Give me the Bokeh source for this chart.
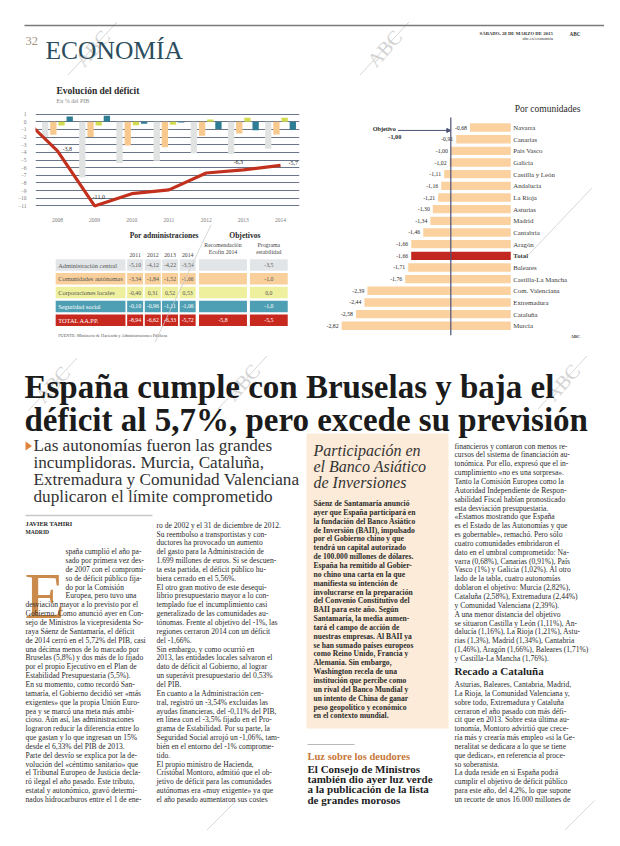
import math
from bokeh.plotting import figure
from bokeh.layouts import column, row
from bokeh.models import Range1d, ColumnDataSource, FixedTicker, Arrow, NormalHead
from bokeh.transform import dodge
from bokeh.core.properties import value
from bokeh.embed import file_html
from bokeh.resources import INLINE

SERIF = "Liberation Serif"

# ------------------------------------------------------------------ data
years = [2008, 2009, 2010, 2011, 2012, 2013, 2014]
central = [-2.0, -7.3, -5.4, -5.10, -4.12, -4.22, -3.54]
ccaa = [-1.7, -2.0, -3.1, -3.34, -1.84, -1.52, -1.66]
local = [-0.5, -0.5, -0.45, -0.40, 0.31, 0.52, 0.53]
seg_social = [0.7, 0.8, -0.25, -0.10, -0.96, -1.11, -1.06]

total_years = [2007, 2008, 2009, 2010, 2011, 2012, 2013, 2014]
total_deficit = [0.9, -3.8, -11.0, -9.4, -8.9, -6.7, -6.3, -5.7]
label_years = [2008, 2009, 2013, 2014]
label_texts = ["-3,8", "-11,0", "-6,3", "-5,7"]

table_years = ["2011", "2012", "2013", "2014"]
admin_names = ["Administración central", "Comunidades autónomas",
               "Corporaciones locales", "Seguridad social", "TOTAL AA.PP."]
admin_values = [[-5.10, -4.12, -4.22, -3.54],
                [-3.34, -1.84, -1.52, -1.66],
                [-0.40, 0.31, 0.52, 0.53],
                [-0.10, -0.96, -1.11, -1.06],
                [-8.94, -6.62, -6.33, -5.72]]
ecofin_2014 = [None, None, None, None, -5.8]
programa_estabilidad = [-3.5, -1.0, 0.0, -1.0, -5.5]

communities = ["Navarra", "Canarias", "País Vasco", "Galicia", "Castilla y León",
               "Andalucía", "La Rioja", "Asturias", "Madrid", "Cantabria", "Aragón",
               "Total", "Baleares", "Castilla-La Mancha", "Com. Valenciana",
               "Extremadura", "Cataluña", "Murcia"]
community_deficit = [-0.68, -0.91, -1.00, -1.02, -1.11, -1.16, -1.21, -1.30, -1.34,
                     -1.46, -1.66, -1.66, -1.71, -1.76, -2.39, -2.44, -2.58, -2.82]
objective = -1.00

# ------------------------------------------------------------------ helpers
WM_TEXT = "#c6c6c6"
WM_LINE = "#cdcdcd"


def fmt(v, d=2):
    return f"{v:.{d}f}".replace(".", ",")


def canvas(x0, y0, w, h):
    p = figure(width=w, height=h, x_range=Range1d(x0, x0 + w), y_range=Range1d(y0 + h, y0),
               output_backend="svg", toolbar_location=None, min_border=0,
               x_axis_location=None, y_axis_location=None, outline_line_color=None)
    p.grid.visible = False
    return p


def txt(p, x, y, s, size, color="#333333", align="left", style="normal",
        font=SERIF, baseline="middle", angle=0.0, alpha=1.0):
    p.text(x=[x], y=[y], text=[s], text_font=value(font), text_font_size=f"{size}px",
           text_color=color, text_align=align, text_baseline=baseline,
           text_font_style=style, angle=angle, text_alpha=alpha)


def lines(p, x, y0, dy, items, size, color="#2b2b2b", style="normal", indent=None):
    xs, ys = [], []
    for i, _ in enumerate(items):
        xs.append(indent[1] if (indent and i < indent[0]) else x)
        ys.append(y0 + i * dy)
    p.text(x=xs, y=ys, text=items, text_font=value(SERIF), text_font_size=f"{size}px",
           text_color=color, text_baseline="middle", text_font_style=style)


def watermark(p, cx, cy, size=20, line=True):
    # faint diagonal "ABC" archive stamp with its slanted rule
    txt(p, cx, cy, "ABC", size, color=WM_TEXT, align="center", angle=0.85, alpha=0.75)
    if line:
        d = size * 1.7
        p.segment(x0=[cx - d * 0.72], y0=[cy + d * 0.78], x1=[cx + d * 0.72],
                  y1=[cy - d * 0.78], line_color=WM_LINE, line_width=0.8)


# ------------------------------------------------------------------ header
fh = canvas(8, 8, 604, 80)
watermark(fh, 100, 56)
watermark(fh, 392, 56)
fh.segment(x0=[32], y0=[33], x1=[612], y1=[33], line_color="#7a7a7a", line_width=1.6)
txt(fh, 33, 48, "32", 12.5, color="#a39482", baseline="alphabetic")
txt(fh, 53, 58, "ECONOMÍA", 25.5, color="#2c4d5d", baseline="alphabetic")
txt(fh, 487, 41, "SÁBADO, 28 DE MARZO DE 2015", 4.8, color="#333", style="bold")
txt(fh, 577, 41, "ABC", 5.2, color="#333", style="bold")
txt(fh, 530, 46, "abc.es/economia", 4.6, color="#333")

# ------------------------------------------------------------------ line chart title
flt = canvas(8, 88, 314, 28)
txt(flt, 33, 98, "Evolución del déficit", 9.5, color="#2a2a2a", style="bold")
txt(flt, 33, 108, "En % del PIB", 6, color="#8a8a8a")

# ------------------------------------------------------------------ line + bars chart
fl = figure(width=314, height=116, x_range=Range1d(2007.41, 2014.51),
            y_range=Range1d(-11.34, 1.21), output_backend="svg", toolbar_location=None,
            min_border_left=35, min_border_right=15, min_border_top=4, min_border_bottom=12,
            outline_line_color=None)
fl.xaxis.ticker = FixedTicker(ticks=years)
fl.yaxis.ticker = FixedTicker(ticks=list(range(-11, 2)))
for ax in (fl.xaxis[0], fl.yaxis[0]):
    ax.axis_line_color = None
    ax.major_tick_line_color = None
    ax.minor_tick_line_color = None
    ax.major_label_text_font = SERIF
    ax.major_label_text_font_size = "5.5px"
    ax.major_label_text_color = "#7d7d7d"
    ax.major_label_standoff = 3
fl.xgrid.visible = False
fl.ygrid.grid_line_color = "#58677c"
fl.ygrid.grid_line_width = 0.9

src = ColumnDataSource(dict(year=years, central=central, ccaa=ccaa, local=local, ss=seg_social))
bar_styles = [("central", -0.33, "#e1e3e3"), ("ccaa", -0.11, "#f8c98e"),
              ("local", 0.11, "#d2dc4e"), ("ss", 0.33, "#2e7d94")]
for col, off, colr in bar_styles:
    fl.vbar(x=dodge("year", off, range=fl.x_range), top=col, bottom=0, width=0.17,
            source=src, fill_color=colr, line_color=None)
fl.line(total_years, total_deficit, line_color="#c2311d", line_width=3.2)

lab_y = [total_deficit[total_years.index(y)] for y in label_years]
lab_dx = [5, -2, -5, 8]
lab_dy = [-2, -9, -8, -2]
lab_align = ["left", "left", "center", "left"]
fl.text(x=label_years, y=lab_y, text=label_texts, x_offset=lab_dx, y_offset=lab_dy,
        text_align=lab_align, text_baseline="middle", text_font=value(SERIF),
        text_font_size="6px", text_color="#2a2a2a")

# ------------------------------------------------------------------ table
ft = canvas(8, 232, 314, 118)
txt(ft, 161, 243, "Por administraciones", 7.6, color="#2a2a2a", align="center", style="bold")
txt(ft, 257, 243, "Objetivos", 7.6, color="#2a2a2a", align="center", style="bold")
col_x = [126.5, 147.5, 168, 189]
for cx, yl in zip(col_x, table_years):
    txt(ft, cx, 262, yl, 5.8, color="#444", align="center")
txt(ft, 231, 252, "Recomendación", 5.8, color="#444", align="center")
txt(ft, 231, 259, "Ecofin 2014", 5.8, color="#444", align="center")
txt(ft, 285.5, 252, "Programa", 5.8, color="#444", align="center")
txt(ft, 285.5, 259, "estabilidad", 5.8, color="#444", align="center")

row_y = [272.5, 286.3, 300.1, 313.9, 327.7]
row_fill = ["#e2e5e7", "#f9cf9b", "#eef09e", "#4f9fb4", "#c8291f"]
row_text = ["#555555", "#555555", "#555555", "#ffffff", "#ffffff"]
for ry, name, vals, eco, prog, fc, tc in zip(row_y, admin_names, admin_values, ecofin_2014,
                                             programa_estabilidad, row_fill, row_text):
    ft.rect(x=[73.5] + col_x + [231, 285.5], y=[ry] * 7,
            width=[83, 19, 19, 19, 19, 57, 45], height=11.5,
            fill_color=fc, line_color=None)
    txt(ft, 35, ry, name, 6.4, color=tc)
    for cx, v in zip(col_x, vals):
        txt(ft, cx, ry, fmt(v), 5.8, color=tc, align="center")
    if eco is not None:
        txt(ft, 231, ry, fmt(eco, 1), 5.8, color=tc, align="center")
    txt(ft, 285.5, ry, fmt(prog, 1), 5.8, color=tc, align="center")
txt(ft, 35, 343, "FUENTE: Ministerio de Hacienda y Administraciones Públicas", 4.3, color="#555")
ft.segment(x0=[217], y0=[232], x1=[150], y1=[350], line_color=WM_LINE, line_width=0.8)

# ------------------------------------------------------------------ communities bars
n = len(communities)
idx = list(range(n))
fb = figure(width=290, height=262, x_range=Range1d(-3.272, 1.562),
            y_range=Range1d(n + 0.43, -4.03), output_backend="svg", toolbar_location=None,
            min_border=0, x_axis_location=None, y_axis_location=None, outline_line_color=None)
fb.grid.visible = False
bar_colors = ["#c2281f" if c == "Total" else "#fbd29f" for c in communities]
bsrc = ColumnDataSource(dict(y=idx, v=community_deficit, c=bar_colors, name=communities,
                             lab=[fmt(v) for v in community_deficit],
                             st=["bold" if c == "Total" else "normal" for c in communities]))
fb.hbar(y="y", left="v", right=0, height=0.72, fill_color="c", line_color=None, source=bsrc)
fb.segment(x0=[objective], x1=[objective], y0=[-0.85], y1=[n - 0.2],
           line_color="#4b5177", line_width=1.2)
fb.text(x="v", y="y", text="lab", x_offset=-3, text_align="right", text_baseline="middle",
        text_font=value(SERIF), text_font_size="5.8px", text_color="#2b2b2b", source=bsrc)
fb.text(x=0, y="y", text="name", x_offset=2.5, text_align="left", text_baseline="middle",
        text_font=value(SERIF), text_font_size="6.8px", text_color="#3a3a3a",
        text_font_style="st", source=bsrc)
fb.text(x=[0], y=[-1.55], text=["Por comunidades"], x_offset=4, text_font=value(SERIF),
        text_font_size="9.5px", text_color="#2a2a2a", text_baseline="middle")
fb.text(x=[objective], y=[0.1], text=["Objetivo"], x_offset=-55, text_align="right",
        text_font=value(SERIF), text_font_size="6.2px", text_color="#2a2a2a",
        text_font_style="bold", text_baseline="middle")
fb.text(x=[objective], y=[0.8], text=[fmt(objective)], x_offset=-56, text_align="center",
        text_font=value(SERIF), text_font_size="6.2px", text_color="#2a2a2a",
        text_font_style="bold", text_baseline="middle")
fb.add_layout(Arrow(x_start=objective - 0.88, y_start=0.25, x_end=objective, y_end=0.25,
                    line_color="#4b5177", line_width=1,
                    end=NormalHead(size=4, fill_color="#4b5177", line_color="#4b5177")))
fb.text(x=[1.0], y=[n - 0.1], text=["ABC"], text_font=value(SERIF), text_font_size="4.5px",
        text_color="#333", text_font_style="bold", text_baseline="middle")
fb.segment(x0=[0.28], y0=[11.0], x1=[1.35], y1=[5.2], line_color=WM_LINE, line_width=0.8)

# ------------------------------------------------------------------ article
fa = canvas(8, 350, 604, 488)
for wx, wy in [(60, 392), (250, 390), (570, 390)]:
    watermark(fa, wx, wy, 20)
for lx, ly in [(232, 838), (590, 838)]:
    fa.segment(x0=[lx - 18], y0=[ly], x1=[lx + 12], y1=[ly - 30], line_color=WM_LINE,
               line_width=0.8)
txt(fa, 32, 394, "España cumple con Bruselas y baja el", 33, color="#1b1b1b",
    style="bold", baseline="alphabetic")
txt(fa, 32, 427, "déficit al 5,7%, pero excede su previsión", 33, color="#1b1b1b",
    style="bold", baseline="alphabetic")

fa.patch(x=[33, 39.5, 33], y=[449, 453.5, 458], fill_color="#e0833a", line_color=None)
sub = ["Las autonomías fueron las grandes", "incumplidoras. Murcia, Cataluña,",
       "Extremadura y Comunidad Valenciana", "duplicaron el límite comprometido"]
lines(fa, 41, 453, 17, sub, 17.2, color="#333333")

fa.segment(x0=[33], y0=[523], x1=[160], y1=[523], line_color="#c8c8c8", line_width=1.5)
txt(fa, 33, 531, "JAVIER TAHIRI", 6.3, color="#2a2a2a", style="bold")
txt(fa, 33, 539, "MADRID", 5.6, color="#2a2a2a", style="bold")
txt(fa, 32, 603, "E", 66, color="#c98a4c", baseline="alphabetic")

col1 = ["spaña cumplió el año pa-", "sado por primera vez des-", "de 2007 con el compromi-",
        "so de déficit público fija-", "do por la Comisión", "Europea, pero tuvo una",
        "desviación mayor a lo previsto por el", "Gobierno. Como anunció ayer en Con-",
        "sejo de Ministros la vicepresidenta So-", "raya Sáenz de Santamaría, el déficit",
        "de 2014 cerró en el 5,72% del PIB, casi", "una décima menos de lo marcado por",
        "Bruselas (5,8%) y dos más de lo fijado", "por el propio Ejecutivo en el Plan de",
        "Estabilidad Presupuestaria (5,5%).", "   En su momento, como recordó San-",
        "tamaría, el Gobierno decidió ser «más", "exigentes» que la propia Unión Euro-",
        "pea y se marcó una meta más ambi-", "cioso. Aún así, las administraciones",
        "lograron reducir la diferencia entre lo", "que gastan y lo que ingresan un 15%",
        "desde el 6,33% del PIB de 2013.", "   Parte del desvío se explica por la de-",
        "volución del «céntimo sanitario» que", "el Tribunal Europeo de Justicia decla-",
        "ró ilegal el año pasado. Este tributo,", "estatal y autonómico, gravó determi-",
        "nados hidrocarburos entre el 1 de ene-"]
col2 = ["ro de 2002 y el 31 de diciembre de 2012.", "Su reembolso a transportistas y con-",
        "ductores ha provocado un aumento", "del gasto para la Administración de",
        "1.699 millones de euros. Si se descuen-", "ta esta partida, el déficit público hu-",
        "biera cerrado en el 5,56%.", "   El otro gran motivo de este desequi-",
        "librio presupuestario mayor a lo con-", "templado fue el incumplimiento casi",
        "generalizado de las comunidades au-", "tónomas. Frente al objetivo del -1%, las",
        "regiones cerraron 2014 con un déficit", "del -1,66%.",
        "   Sin embargo, y como ocurrió en", "2013, las entidades locales salvaron el",
        "dato de déficit al Gobierno, al lograr", "un superávit presupuestario del 0,53%",
        "del PIB.", "   En cuanto a la Administración cen-",
        "tral, registró un -3,54% excluidas las", "ayudas financieras, del -0,11% del PIB,",
        "en línea con el -3,5% fijado en el Pro-", "grama de Estabilidad. Por su parte, la",
        "Seguridad Social arrojó un -1,06%, tam-", "bién en el entorno del -1% comprome-",
        "tido.", "   El propio ministro de Hacienda,", "Cristóbal Montoro, admitió que el ob-",
        "jetivo de déficit para las comunidades", "autónomas era «muy exigente» ya que",
        "el año pasado aumentaron sus costes"]
col4a = ["financieros y contaron con menos re-", "cursos del sistema de financiación au-",
         "tonómica. Por ello, expresó que el in-", "cumplimiento «no es una sorpresa».",
         "Tanto la Comisión Europea como la", "Autoridad Independiente de Respon-",
         "sabilidad Fiscal habían pronosticado", "esta desviación presupuestaria.",
         "   «Estamos mostrando que España", "es el Estado de las Autonomías y que",
         "es gobernable», remachó. Pero sólo", "cuatro comunidades embridaron el",
         "dato en el umbral comprometido: Na-", "varra (0,68%), Canarias (0,91%), País",
         "Vasco (1%) y Galicia (1,02%). Al otro", "lado de la tabla, cuatro autonomías",
         "doblaron el objetivo: Murcia (2,82%),", "Cataluña (2,58%), Extremadura (2,44%)",
         "y Comunidad Valenciana (2,39%).", "   A una menor distancia del objetivo",
         "se situaron Castilla y León (1,11%), An-", "dalucía (1,16%), La Rioja (1,21%), Astu-",
         "rias (1,3%), Madrid (1,34%), Cantabria", "(1,46%), Aragón (1,66%), Baleares (1,71%)",
         "y Castilla-La Mancha (1,76%)."]
col4b = ["Asturias, Baleares, Cantabria, Madrid,", "La Rioja, la Comunidad Valenciana y,",
         "sobre todo, Extremadura y Cataluña", "cerraron el año pasado con más défi-",
         "cit que en 2013. Sobre esta última au-", "tonomía, Montoro advirtió que crece-",
         "ría más y crearía más empleo «si la Ge-", "neralitat se dedicara a lo que se tiene",
         "que dedicar», en referencia al proce-", "so soberanista.",
         "   La duda reside en si España podrá", "cumplir el objetivo de déficit público",
         "para este año, del 4,2%, lo que supone", "un recorte de unos 16.000 millones de"]

dy = 8.85
bottom = 807
lines(fa, 33, bottom - (len(col1) - 1) * dy, dy, col1, 7.6, indent=(6, 73))
lines(fa, 164, bottom - (len(col2) - 1) * dy, dy, col2, 7.6)
y4b = bottom - (len(col4b) - 1) * dy
txt(fa, 462, y4b - 13, "Recado a Cataluña", 11, color="#1f1f1f", style="bold")
lines(fa, 462, y4b - 26 - (len(col4a) - 1) * dy, dy, col4a, 7.6)
lines(fa, 462, y4b, dy, col4b, 7.6)

# sidebar
fa.quad(left=[314], right=[456], top=[441], bottom=[736], fill_color="#fcebd8", line_color=None)
side_title = ["Participación en", "el Banco Asiático", "de Inversiones"]
lines(fa, 321, 458, 16, side_title, 16, color="#333333", style="italic")
side = ["Sáenz de Santamaría anunció", "ayer que España participará en",
        "la fundación del Banco Asiático", "de Inversión (BAII), impulsado",
        "por el Gobierno chino y que", "tendrá un capital autorizado",
        "de 100.000 millones de dólares.", "España ha remitido al Gobier-",
        "no chino una carta en la que", "manifiesta su intención de",
        "involucrarse en la preparación", "del Convenio Constitutivo del",
        "BAII para este año. Según", "Santamaría, la media aumen-",
        "tará el campo de acción de", "nuestras empresas. Al BAII ya",
        "se han sumado países europeos", "como Reino Unido, Francia y",
        "Alemania. Sin embargo,", "Washington recela de una",
        "institución que percibe como", "un rival del Banco Mundial y",
        "un intento de China de ganar", "peso geopolítico y económico",
        "en el contexto mundial."]
lines(fa, 321, 511, dy, side, 7.6, color="#2b2b2b", style="bold")
fa.segment(x0=[315], y0=[752], x1=[362], y1=[752], line_color="#b9b9b9", line_width=1.2)
txt(fa, 315, 764, "Luz sobre los deudores", 10.5, color="#c7773a", style="bold")
heads = ["El Consejo de Ministros", "también dio ayer luz verde",
         "a la publicación de la lista", "de grandes morosos"]
lines(fa, 315, 776, 10.4, heads, 11, color="#222222", style="bold")

# ------------------------------------------------------------------ layout
left = column(flt, fl, ft)
page = column(fh, row(left, fb), fa)
open("out.html", "w").write(file_html(page, INLINE))
